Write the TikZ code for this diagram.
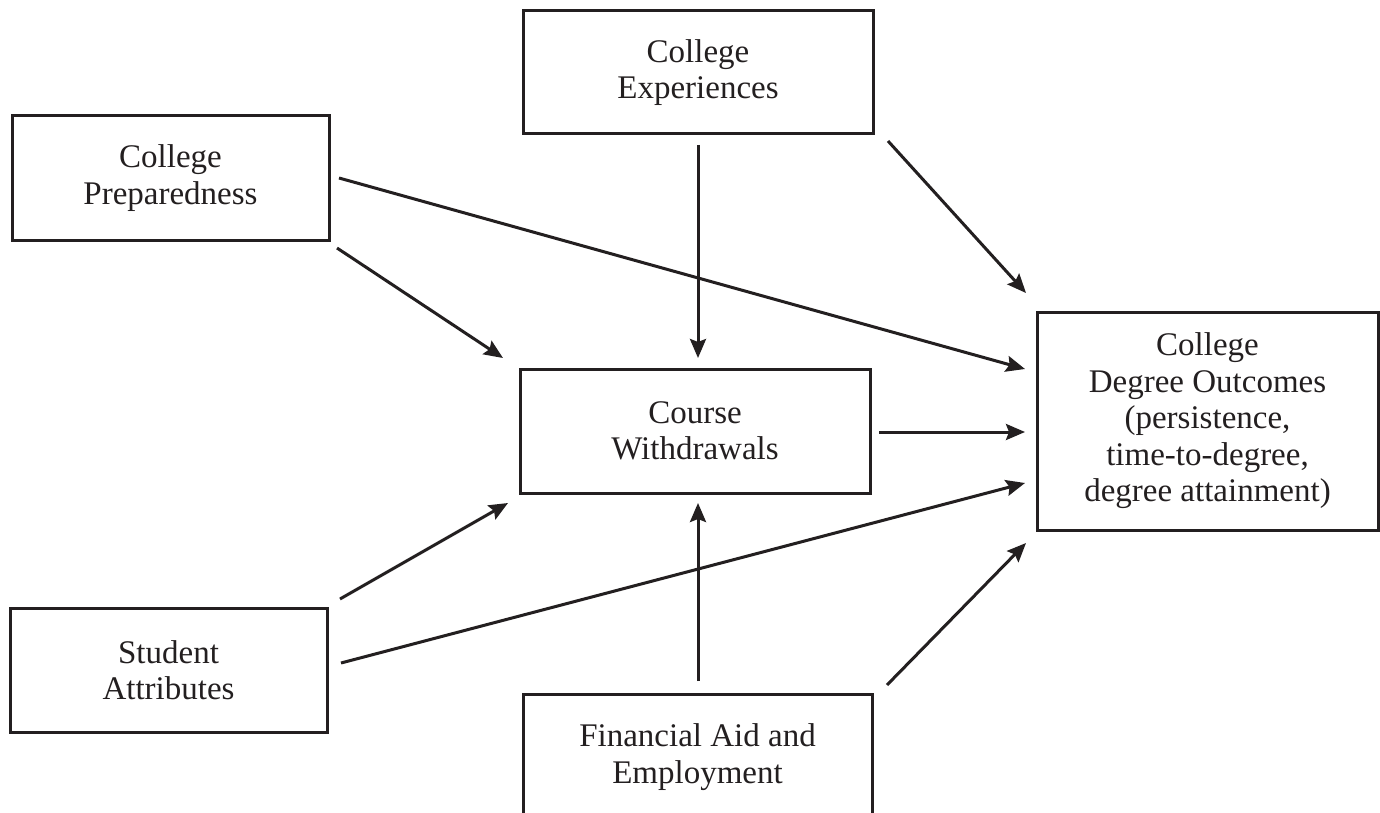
\documentclass[tikz,border=0pt]{standalone}
\usepackage{fontspec}
\setmainfont{Liberation Serif}
\usetikzlibrary{arrows.meta}
\definecolor{ink}{HTML}{231F20}
\begin{document}
\begin{tikzpicture}[x=1pt,y=-1pt,
  box/.style={draw=ink, line width=3pt, inner sep=0pt, align=center, text=ink,
    font=\fontsize{33}{36.5}\selectfont},
  arr/.style={draw=ink, line width=3pt, -{Stealth[length=19pt,width=16pt,inset=3pt]}}]
\useasboundingbox (0,0) rectangle (1380,813);
\clip (0,0) rectangle (1380,813);
\fill[white] (0,0) rectangle (1380,813);
% boxes
\node[box, minimum width=317pt, minimum height=124pt] (prep) at (170.5,178) {College\\Preparedness};
\node[box, minimum width=350pt, minimum height=123pt] (exp) at (698,72.5) {College\\Experiences};
\node[box, minimum width=350pt, minimum height=124pt] (wd) at (695,431) {Course\\Withdrawals};
\node[box, minimum width=341pt, minimum height=218pt] (out) at (1207.5,421) {College\\Degree Outcomes\\(persistence,\\time-to-degree,\\degree attainment)};
\node[box, minimum width=317pt, minimum height=124pt] (stu) at (168.5,670) {Student\\Attributes};
\node[box, minimum width=349pt, minimum height=126pt] (fin) at (697.5,757) {Financial Aid and\\Employment};
% connector end points
\coordinate (p1s) at (339,178); \coordinate (p1e) at (1025,369);
\coordinate (p2s) at (337,248); \coordinate (p2e) at (503,358);
\coordinate (e1s) at (698,145); \coordinate (e1e) at (698,358);
\coordinate (e2s) at (888,141); \coordinate (e2e) at (1026,293);
\coordinate (w1s) at (879,432); \coordinate (w1e) at (1025,432);
\coordinate (s1s) at (340,599); \coordinate (s1e) at (508,503);
\coordinate (s2s) at (341,663); \coordinate (s2e) at (1025,483);
\coordinate (f1s) at (698,681); \coordinate (f1e) at (698,503);
\coordinate (f2s) at (887,685); \coordinate (f2e) at (1026,543);
% connectors
\draw[arr] (p1s) -- (p1e);
\draw[arr] (p2s) -- (p2e);
\draw[arr] (e1s) -- (e1e);
\draw[arr] (e2s) -- (e2e);
\draw[arr] (w1s) -- (w1e);
\draw[arr] (s1s) -- (s1e);
\draw[arr] (s2s) -- (s2e);
\draw[arr] (f1s) -- (f1e);
\draw[arr] (f2s) -- (f2e);
\end{tikzpicture}
\end{document}
